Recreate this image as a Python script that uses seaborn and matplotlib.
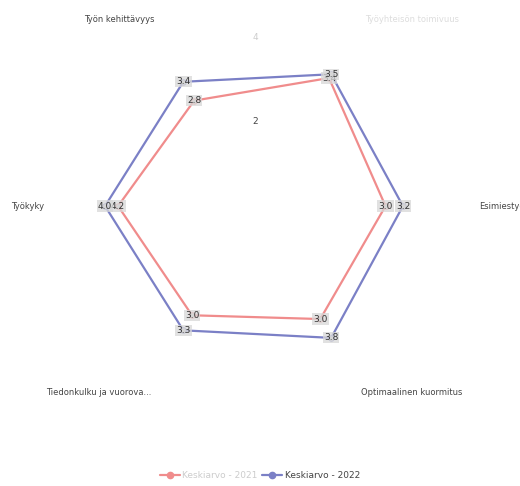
import numpy as np
import pandas as pd
import matplotlib
matplotlib.use("Agg")
import matplotlib.pyplot as plt
import seaborn as sns
from matplotlib.lines import Line2D

categories = ["Esimiestyö", "Työyhteisön toimivuus", "Työn kehittävyys",
              "Työkyky", "Tiedonkulku ja vuorova...", "Optimaalinen kuormitus"]
series_names = ["Keskiarvo - 2021", "Keskiarvo - 2022"]
values_2021 = [3.0, 3.4, 2.8, 3.15, 2.9, 3.0]
values_2022 = [3.4, 3.5, 3.3, 3.45, 3.3, 3.5]
label_2021 = ["3.0", "3.4", "2.8", "4.2", "3.0", "3.0"]
label_2022 = ["3.2", "3.5", "3.4", "4.0", "3.3", "3.8"]
radial_ticks = [2, 4]

sns.set_theme(style="white")
plt.rcParams['font.family'] = ['DejaVu Sans']

colors = {"Keskiarvo - 2021": "#f08c8c", "Keskiarvo - 2022": "#7b80c6"}

n = len(categories)
angles = np.deg2rad(np.arange(n) * 360.0 / n)

rows = []
for name, vals in zip(series_names, [values_2021, values_2022]):
    for i in range(n):
        rows.append({"series": name, "theta": angles[i], "value": vals[i]})
    rows.append({"series": name, "theta": 2 * np.pi, "value": vals[0]})
df = pd.DataFrame(rows)

fig = plt.figure(figsize=(5.2, 4.86), dpi=100)
R = 4.0
ax = fig.add_axes([0.156, 0.218, 0.669, 0.716], projection="polar")
ax.set_ylim(0, R)
ax.set_xticks([])
ax.set_yticks([])
ax.grid(False)
ax.spines["polar"].set_visible(False)
ax.set_facecolor("white")

sns.lineplot(data=df, x="theta", y="value", hue="series", palette=colors,
             sort=False, estimator=None, ax=ax, linewidth=1.6, legend=False)
for name, vals in zip(series_names, [values_2021, values_2022]):
    ax.scatter(angles, vals, s=16, color="#cfcfcf", edgecolor=colors[name],
               linewidth=0.6, zorder=4)

# value labels
for labels, vals in [(label_2021, values_2021), (label_2022, values_2022)]:
    for i in range(n):
        ax.text(angles[i], vals[i], labels[i], fontsize=6.5, color="#333333",
                ha="center", va="center", zorder=5,
                bbox=dict(boxstyle="square,pad=0.12", fc="#d8d8d8", ec="none", alpha=0.75))

# radial tick labels
for t in radial_ticks:
    ax.text(np.pi / 2, t * 0.97, str(t), fontsize=6.5,
            color="#444444" if t == 2 else "#cccccc", ha="center", va="center")

# category labels
label_pos = [(0, 5.15, "left", "#444444"),
             (np.deg2rad(50), 5.6, "center", "#dddddd"),
             (np.deg2rad(126), 5.3, "center", "#444444"),
             (np.pi, 4.85, "right", "#444444"),
             (np.deg2rad(230), 5.6, "center", "#444444"),
             (np.deg2rad(310), 5.6, "center", "#444444")]
for cat, (th, r, ha, col) in zip(categories, label_pos):
    ax.text(th, r, cat, fontsize=6, color=col, ha=ha, va="center", clip_on=False)

# legend
handles = [Line2D([0], [0], color=colors[s], marker="o", markersize=4.5,
                  markerfacecolor=colors[s], linewidth=1.6) for s in series_names]
leg = fig.legend(handles, series_names, loc="lower center", ncol=2, frameon=False,
                 fontsize=6.5, bbox_to_anchor=(0.5, -0.005), handlelength=2.2,
                 columnspacing=0.5, handletextpad=0.3)
leg.get_texts()[0].set_color("#cccccc")
leg.get_texts()[1].set_color("#444444")

fig.savefig("out.png", dpi=100, facecolor="white")
